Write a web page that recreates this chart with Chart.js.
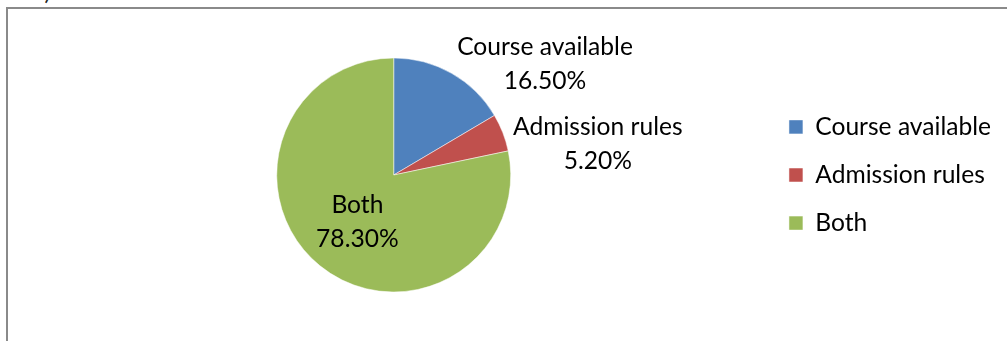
<!DOCTYPE html>
<html>
<head>
<meta charset="utf-8">
<script src="https://cdn.jsdelivr.net/npm/chart.js@4.4.0/dist/chart.umd.min.js"></script>
<style>
  body { margin: 0; background: #fff; }
  #wrap { position: relative; width: 1007px; height: 341px; overflow: hidden; }
  .frame { position: absolute; left: 6px; top: 7px; width: 1100px; height: 400px;
           border-left: 2px solid #8a8a8a; border-top: 2px solid #8a8a8a; }
  .tag { position: absolute; left: 34px; top: -22px; font: 22px Lato, sans-serif; color: #222; }
  canvas { position: absolute; left: 0; top: 0; }
</style>
</head>
<body>
<div id="wrap">
  <div class="tag">a)</div>
  <div class="frame"></div>
  <canvas id="pie" width="1007" height="341"></canvas>
</div>
<script>
// data
const categories = ['Course available', 'Admission rules', 'Both'];
const shares = [16.5, 5.2, 78.3];
const colors = ['#4F81BD', '#C0504D', '#9BBB59'];

const FONT = 'Lato, sans-serif';
const FONT_SIZE = 24.6;
const LINE_H = 34;

// data labels: big slice inside, small slices outside on the right
const sliceLabels = {
    id: 'sliceLabels',
    afterDatasetsDraw(chart) {
        const ctx = chart.ctx;
        const arcs = chart.getDatasetMeta(0).data;
        ctx.save();
        ctx.font = FONT_SIZE + 'px ' + FONT;
        ctx.fillStyle = '#000';
        ctx.textAlign = 'center';
        ctx.textBaseline = 'middle';
        let prevBottom = -Infinity;
        arcs.forEach((arc, i) => {
            const p = arc.getProps(['x', 'y', 'startAngle', 'endAngle', 'outerRadius'], true);
            const mid = (p.startAngle + p.endAngle) / 2;
            const lines = [categories[i], shares[i].toFixed(2) + '%'];
            const w = Math.max(...lines.map(t => ctx.measureText(t).width));
            let cx, cy;
            if (shares[i] > 50) {
                const r = p.outerRadius * 0.52;
                cx = p.x + Math.cos(mid) * r + 2;
                cy = p.y + Math.sin(mid) * r;
            } else {
                const r = p.outerRadius + 11;
                cx = p.x + Math.cos(mid) * r + w / 2;
                cy = p.y + Math.sin(mid) * r;
                let top = cy - LINE_H;
                if (top < prevBottom + 12) {
                    top = prevBottom + 12;
                    cy = top + LINE_H;
                }
                prevBottom = cy + LINE_H;
            }
            ctx.fillText(lines[0], cx, cy - LINE_H / 2);
            ctx.fillText(lines[1], cx, cy + LINE_H / 2);
        });
        ctx.restore();
    }
};

new Chart(document.getElementById('pie'), {
    type: 'pie',
    data: {
        labels: categories,
        datasets: [{
            data: shares,
            backgroundColor: colors,
            borderColor: 'rgba(255,255,255,0.5)',
            borderWidth: 1
        }]
    },
    options: {
        responsive: false,
        animation: false,
        radius: 117,
        layout: { padding: { left: 22, top: 9, right: 6, bottom: 0 } },
        plugins: {
            tooltip: { enabled: false },
            legend: {
                position: 'right',
                labels: {
                    boxWidth: 14,
                    boxHeight: 14,
                    padding: 23.5,
                    color: '#000',
                    font: { family: FONT, size: FONT_SIZE }
                }
            }
        }
    },
    plugins: [sliceLabels]
});
</script>
</body>
</html>
